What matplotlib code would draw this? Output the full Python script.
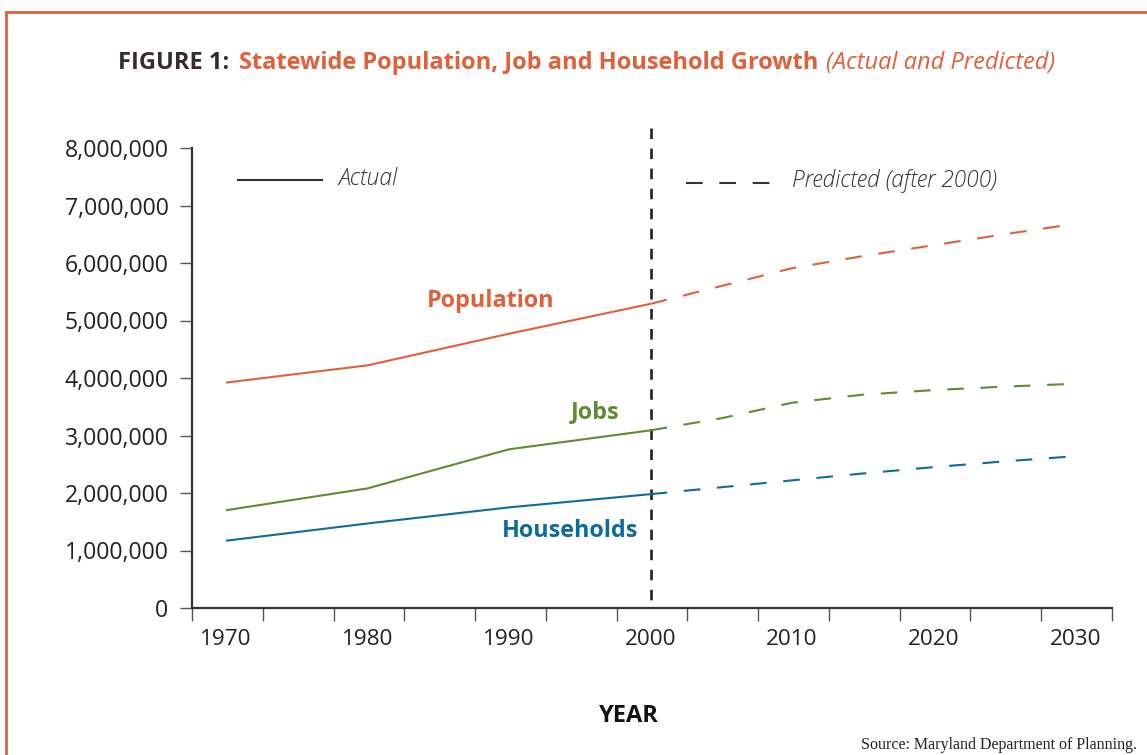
import matplotlib
matplotlib.use("Agg")
import matplotlib.pyplot as plt
from matplotlib.patches import Rectangle

# data (millions of people / jobs / households)
years_actual = [1970, 1980, 1990, 2000]
years_pred = [2000, 2005, 2010, 2015, 2020, 2025, 2030]

pop_actual = [3.92e6, 4.22e6, 4.77e6, 5.29e6]
pop_pred = [5.29e6, 5.60e6, 5.91e6, 6.12e6, 6.31e6, 6.50e6, 6.68e6]

jobs_actual = [1.70e6, 2.08e6, 2.76e6, 3.09e6]
jobs_pred = [3.09e6, 3.30e6, 3.57e6, 3.71e6, 3.79e6, 3.85e6, 3.90e6]

hh_actual = [1.17e6, 1.47e6, 1.75e6, 1.98e6]
hh_pred = [1.98e6, 2.10e6, 2.22e6, 2.34e6, 2.45e6, 2.55e6, 2.64e6]

year_ticks = [1970, 1980, 1990, 2000, 2010, 2020, 2030]
value_ticks = [0, 1e6, 2e6, 3e6, 4e6, 5e6, 6e6, 7e6, 8e6]

ORANGE = "#E0603A"
GREEN = "#5E8C2E"
BLUE = "#0F6B9B"
DARK = "#333333"

FONT = "Open Sans"
W, H = 1147, 755

fig = plt.figure(figsize=(W / 100, H / 100), dpi=100)
fig.patch.set_facecolor("white")

# orange frame (open at right/bottom, cropped in the source)
fig.add_artist(Rectangle((6 / W, -0.1), 1.2, (H - 12) / H + 0.1,
                         transform=fig.transFigure, fill=False,
                         edgecolor=ORANGE, lw=2.0))

ax = fig.add_axes([192 / W, 147 / H, 920 / W, 460 / H])
ax.set_xlim(1967.6, 2032.6)
ax.set_ylim(0, 8e6)

dash = (0, (8, 8))
for ya, yp, c in [(pop_actual, pop_pred, ORANGE),
                  (jobs_actual, jobs_pred, GREEN),
                  (hh_actual, hh_pred, BLUE)]:
    ax.plot(years_actual, ya, color=c, lw=1.5, solid_capstyle="butt")
    ax.plot(years_pred, yp, color=c, lw=1.5, linestyle=dash)

# divider at 2000 (drawn top-down so the top dash starts at the end)
ax.plot([2000, 2000], [8.35e6, 0], color="#222222", lw=1.9,
        linestyle=(0, (4, 3.6)), clip_on=False, zorder=1)

# series labels
lab = dict(fontfamily=FONT, fontweight="bold", fontsize=16.8,
           ha="center", va="center")
ax.text(1988.7, 5.34e6, "Population", color=ORANGE, **lab)
ax.text(1996.1, 3.41e6, "Jobs", color=GREEN, **lab)
ax.text(1994.3, 1.34e6, "Households", color=BLUE, **lab)

# in-plot key
ax.plot([1970.85, 1976.8], [7.44e6, 7.44e6], color=DARK, lw=1.5, clip_on=False)
ax.text(1977.9, 7.46e6, "Actual", fontfamily=FONT, fontstyle="italic",
        fontweight="light", fontsize=16.5, color=DARK, va="center")
ax.plot([2002.5, 2008.5], [7.40e6, 7.40e6], color=DARK, lw=1.5,
        linestyle=(0, (8, 8)))
ax.text(2010.0, 7.42e6, "Predicted (after 2000)", fontfamily=FONT,
        fontstyle="italic", fontweight="light", fontsize=16.3, color=DARK,
        va="center")

# spines / ticks
for s in ["top", "right"]:
    ax.spines[s].set_visible(False)
for s in ["left", "bottom"]:
    ax.spines[s].set_color(DARK)
    ax.spines[s].set_linewidth(1.6)

ax.set_xticks(year_ticks)
ax.set_xticklabels([str(y) for y in year_ticks])
ax.set_xticks([1967.6 + 5 * k for k in range(14)], minor=True)
ax.tick_params(axis="x", which="major", length=0, pad=15, labelsize=16.2,
               labelcolor="#222222")
ax.tick_params(axis="x", which="minor", length=9, width=1.0, color="#555555")

ax.set_yticks(value_ticks)
ax.set_yticklabels([f"{int(v):,}" for v in value_ticks])
ax.tick_params(axis="y", length=9, width=1.0, color="#555555", pad=8,
               labelsize=16.6, labelcolor="#222222")
for t in ax.get_xticklabels() + ax.get_yticklabels():
    t.set_fontfamily(FONT)

fig.text(629 / W, 1 - 716 / H, "YEAR", fontfamily=FONT, fontweight="bold",
         fontsize=17, ha="center", va="center", color="#111111")
fig.text(1137 / W, 1 - 745 / H, "Source: Maryland Department of Planning.",
         fontfamily="Liberation Serif", fontsize=11.5, ha="right",
         va="center", color="#222222")

# title built from three styled pieces
fig.canvas.draw()
r = fig.canvas.get_renderer()
ty = 1 - 63 / H
x = 118
pieces = [("FIGURE 1:", "#3A2A30", "bold", "normal", 10),
          ("Statewide Population, Job and Household Growth", ORANGE, "bold", "normal", 7),
          ("(Actual and Predicted)", ORANGE, "normal", "italic", 0)]
for txt, col, wt, st, gap in pieces:
    t = fig.text(x / W, ty, txt, color=col, fontweight=wt, fontstyle=st,
                 fontfamily=FONT, fontsize=17, va="center", ha="left")
    bb = t.get_window_extent(r)
    x = bb.x1 + gap

fig.savefig("out.png", dpi=100)
